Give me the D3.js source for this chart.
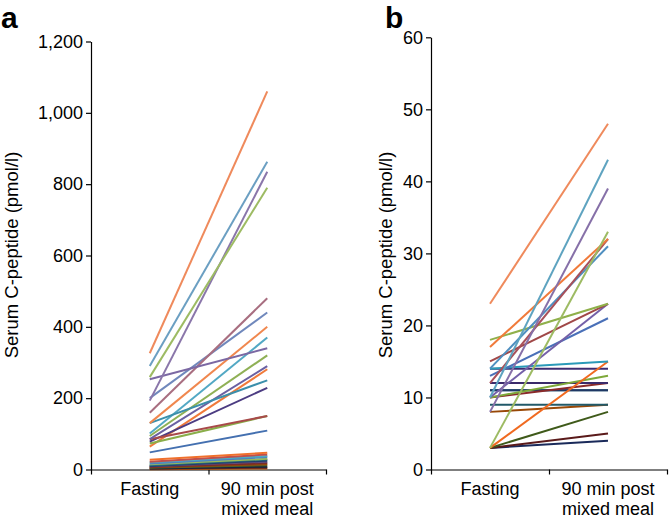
<!DOCTYPE html>
<html><head><meta charset="utf-8">
<script src="https://cdn.jsdelivr.net/npm/d3@7"></script>
<style>
body{margin:0;background:#fff;}
text{font-family:"Liberation Sans",Arial,sans-serif;fill:#000;}
</style></head>
<body><svg id="chart" width="669" height="519"></svg>
<script>
// ---- data ----
const categories = ["Fasting", "90 min post mixed meal"];
const yTicksA = [0, 200, 400, 600, 800, 1000, 1200];
const yTicksB = [0, 10, 20, 30, 40, 50, 60];
// Panel a: serum C-peptide (pmol/l), fasting and 90 min values per patient
const aFasting = [326, 290, 259, 193, 253, 159, 200, 130, 130, 101, 94, 85, 85, 78, 73, 64, 48,
                  27, 22, 20, 17, 15, 12, 10, 9, 7, 6, 5, 3, 2, 1];
const aMeal    = [1060, 863, 790, 835, 340, 480, 440, 400, 250, 370, 320, 290, 150, 229, 150, 281, 109,
                  47, 42, 38, 35, 30, 28, 25, 22, 18, 15, 12, 8, 5, 3];
const aColors  = ["#ef8a5c","#6b9fc2","#9dbb63","#8a76aa","#7b68a3","#a86e80","#7088bc","#f0874e","#3b8fab","#52a8c4","#8fb055","#6a60a2","#a84a4a","#4c3c82","#8aae4a","#f07a3a","#4470b0",
                  "#f0702c","#c0504d","#4bacc6","#4f81bd","#9bbb59","#276a7c","#1f3d6b","#604a7b","#772c2a","#984807","#4f6228","#10253f","#632523","#b65708"];
// Panel b: serum C-peptide (pmol/l)
const bFasting = [23, 10, 8, 3, 17, 12, 14, 18, 15, 10, 13, 14, 3, 14, 10, 12, 10, 11, 11, 9, 8, 3, 3, 3];
const bMeal    = [48, 43, 39, 33, 32, 32, 31, 23, 23, 23, 21, 15, 15, 14, 13, 12, 12, 11, 11, 9, 9, 8, 5, 4];
const bColors  = ["#ef8a5c","#5ea3c0","#8670a8","#9dbb63","#f07a3a","#a8505a","#4f8fc0","#8fb04a","#a04848","#7460a8","#4a70b8","#2a9ab8","#f06a20","#3c2c72","#7ea83a","#3a2a6a","#8a2a2a","#1f3864","#215e78","#215968","#984807","#3f5a1a","#5a1a1a","#1a2a5a"];

const svg = d3.select("#chart");

function panel(cfg) {
  const g = svg.append("g");
  const y = d3.scaleLinear().domain([0, cfg.ymax]).range([469.5, cfg.ytop]);
  const x = d3.scaleBand().domain(categories).range([cfg.x0, cfg.x1]).padding(0);
  const xt = d3.scaleLinear().domain([0, 2]).range([cfg.x0, cfg.x1]);

  // y axis
  const ya = g.append("g").attr("transform", `translate(${cfg.x0},0)`)
    .call(d3.axisLeft(y).tickValues(cfg.yticks).tickFormat(cfg.fmt).tickSize(5).tickSizeOuter(0).tickPadding(3));
  ya.selectAll("text").style("font-size", "18px");
  ya.selectAll("line,path").attr("stroke", "#000").attr("stroke-width", 1.2);

  // x axis (ticks between categories)
  const xa = g.append("g").attr("transform", "translate(0,469.5)")
    .call(d3.axisBottom(xt).tickValues([0, 1, 2]).tickFormat("").tickSize(5).tickSizeOuter(0));
  xa.selectAll("line,path").attr("stroke", "#000").attr("stroke-width", 1.2);

  // category labels
  categories.forEach(c => {
    const words = c === "Fasting" ? ["Fasting"] : ["90 min post", "mixed meal"];
    const t = g.append("text").attr("text-anchor", "middle").style("font-size", "18px")
      .attr("x", x(c) + x.bandwidth() / 2).attr("y", 495);
    words.forEach((w, i) => t.append("tspan").attr("x", x(c) + x.bandwidth() / 2).attr("dy", i ? 20 : 0).text(w));
  });

  // lines
  const cx0 = x(categories[0]) + x.bandwidth() / 2;
  const cx1 = x(categories[1]) + x.bandwidth() / 2;
  const idx = d3.range(cfg.f.length).reverse();
  g.append("g").selectAll("line").data(idx).join("line")
    .attr("x1", cx0).attr("x2", cx1)
    .attr("y1", i => y(cfg.f[i])).attr("y2", i => y(cfg.m[i]))
    .attr("stroke", i => cfg.c[i]).attr("stroke-width", 2).attr("stroke-linecap", "butt");

  // y title
  g.append("text").attr("transform", `translate(${cfg.titleX},255) rotate(-90)`)
    .attr("text-anchor", "middle").style("font-size", "18.5px").text("Serum C-peptide (pmol/l)");
  // panel letter
  g.append("text").attr("x", cfg.letterX).attr("y", 28).style("font-size", "30px").style("font-weight", "bold").text(cfg.letter);
}

panel({x0: 91, x1: 326, ytop: 41.5, ymax: 1200, yticks: yTicksA, fmt: d3.format(","),
       f: aFasting, m: aMeal, c: aColors, titleX: 18, letter: "a", letterX: 1});
panel({x0: 431, x1: 667, ytop: 37.3, ymax: 60, yticks: yTicksB, fmt: d3.format("d"),
       f: bFasting, m: bMeal, c: bColors, titleX: 392, letter: "b", letterX: 385});
</script></body></html>
